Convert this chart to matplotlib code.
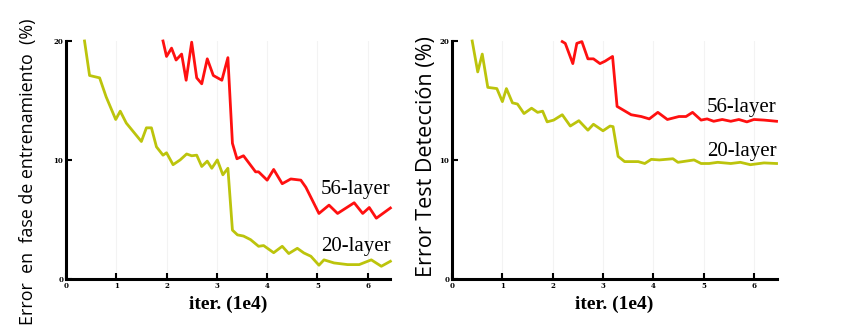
import matplotlib
matplotlib.use("Agg")
import matplotlib.pyplot as plt

# Training error curves (iterations in units of 1e4, error in %)
train_20_x = [0.37, 0.47, 0.67, 0.80, 0.99, 1.08, 1.20, 1.50, 1.60, 1.70, 1.80, 1.93, 2.00,
              2.13, 2.27, 2.40, 2.50, 2.60, 2.70, 2.81, 2.90, 3.01, 3.12, 3.22, 3.31, 3.41,
              3.53, 3.67, 3.83, 3.93, 4.13, 4.30, 4.43, 4.60, 4.73, 4.87, 5.03, 5.13, 5.33,
              5.60, 5.83, 6.07, 6.27, 6.45]
train_20_y = [20.0, 17.1, 16.9, 15.3, 13.4, 14.1, 13.1, 11.55, 12.7, 12.7, 11.1, 10.4, 10.6,
              9.6, 10.0, 10.5, 10.35, 10.4, 9.45, 9.9, 9.3, 10.0, 8.75, 9.3, 4.1, 3.7,
              3.6, 3.3, 2.74, 2.8, 2.2, 2.74, 2.13, 2.57, 2.18, 1.9, 1.15, 1.6, 1.34,
              1.2, 1.2, 1.6, 1.06, 1.48]

train_56_x = [1.93, 2.00, 2.10, 2.19, 2.30, 2.39, 2.50, 2.60, 2.70, 2.81, 2.93, 3.10, 3.22,
              3.31, 3.40, 3.53, 3.77, 3.83, 4.00, 4.13, 4.30, 4.47, 4.67, 4.77, 5.03, 5.23,
              5.40, 5.73, 5.90, 6.03, 6.17, 6.45]
train_56_y = [20.0, 18.7, 19.4, 18.4, 18.9, 16.7, 19.9, 16.9, 16.4, 18.5, 17.1, 16.7, 18.6,
              11.4, 10.1, 10.35, 9.0, 9.0, 8.3, 9.2, 8.0, 8.4, 8.3, 7.7, 5.5, 6.2,
              5.5, 6.4, 5.5, 6.0, 5.1, 5.96]

# Test error curves
test_20_x = [0.40, 0.51, 0.60, 0.71, 0.89, 1.00, 1.08, 1.20, 1.30, 1.43, 1.58, 1.70, 1.80,
             1.89, 2.02, 2.19, 2.35, 2.52, 2.70, 2.81, 3.00, 3.14, 3.20, 3.30, 3.43, 3.70,
             3.83, 3.96, 4.12, 4.39, 4.49, 4.81, 4.95, 5.11, 5.28, 5.54, 5.73, 5.93, 6.20,
             6.45]
test_20_y = [20.0, 17.4, 18.9, 16.1, 16.0, 14.9, 16.0, 14.8, 14.7, 13.9, 14.35, 14.0, 14.1,
             13.2, 13.35, 13.8, 12.85, 13.3, 12.5, 13.0, 12.45, 12.85, 12.8, 10.3, 9.86, 9.86,
             9.7, 10.05, 10.0, 10.1, 9.8, 10.0, 9.7, 9.7, 9.8, 9.7, 9.8, 9.6, 9.75,
             9.7]

test_56_x = [2.19, 2.25, 2.40, 2.48, 2.58, 2.70, 2.81, 2.94, 3.04, 3.19, 3.28, 3.40, 3.56,
             3.76, 3.92, 4.09, 4.28, 4.51, 4.65, 4.78, 4.95, 5.07, 5.20, 5.37, 5.54, 5.70,
             5.86, 6.00, 6.20, 6.45]
test_56_y = [19.95, 19.8, 18.1, 19.8, 19.95, 18.5, 18.5, 18.1, 18.3, 18.7, 14.5, 14.2, 13.8,
             13.65, 13.45, 14.0, 13.4, 13.65, 13.65, 14.0, 13.35, 13.45, 13.25, 13.4, 13.25, 13.4,
             13.2, 13.4, 13.35, 13.25]

RED = "#ff1010"
OLIVE = "#bcc40c"


def style_axes(ax, ylabel, ylabel_size):
    ax.set_xlim(0, 6.45)
    ax.set_ylim(0, 20)
    ax.set_xticks(range(7))
    ax.set_yticks([0, 10, 20])
    for side in ("top", "right"):
        ax.spines[side].set_visible(False)
    for side in ("left", "bottom"):
        ax.spines[side].set_linewidth(2.2)
    ax.tick_params(direction="in", length=4, width=1.5, labelsize=5, pad=2)
    for lab in ax.get_xticklabels() + ax.get_yticklabels():
        lab.set_family("DejaVu Serif")
        lab.set_fontweight("bold")
    ax.grid(axis="x", color="#f3f3f3", linewidth=0.8)
    ax.set_xlabel("iter. (1e4)", family="Liberation Serif", fontweight="bold",
                  fontsize=14, labelpad=4)
    ax.set_ylabel(ylabel, family="Open Sans", fontsize=ylabel_size)


def plot_curve(ax, x, y, color):
    ax.plot(x, y, color=color, linewidth=2, clip_on=False, solid_joinstyle="round")


fig = plt.figure(figsize=(8.45, 3.36), dpi=100)
ax1 = fig.add_axes([0.078, 0.170, 0.384, 0.708])
ax2 = fig.add_axes([0.535, 0.170, 0.384, 0.708])

plot_curve(ax1, train_20_x, train_20_y, OLIVE)
plot_curve(ax1, train_56_x, train_56_y, RED)
ax1.text(6.45, 7.5, "56-layer", family="Liberation Serif", fontsize=15, ha="right", va="center")
ax1.text(6.45, 2.7, "20-layer", family="Liberation Serif", fontsize=15, ha="right", va="center")
style_axes(ax1, "Error  en  fase de entrenamiento  (%)", 12.9)
ax1.yaxis.set_label_coords(-0.09, 0.45)

plot_curve(ax2, test_20_x, test_20_y, OLIVE)
plot_curve(ax2, test_56_x, test_56_y, RED)
ax2.text(6.45, 14.45, "56-layer", family="Liberation Serif", fontsize=15, ha="right", va="center")
ax2.text(6.45, 10.7, "20-layer", family="Liberation Serif", fontsize=15, ha="right", va="center")
style_axes(ax2, "Error Test Detección (%)", 15.5)
ax2.yaxis.set_label_coords(-0.046, 0.515)

fig.savefig("out.png", dpi=100)
